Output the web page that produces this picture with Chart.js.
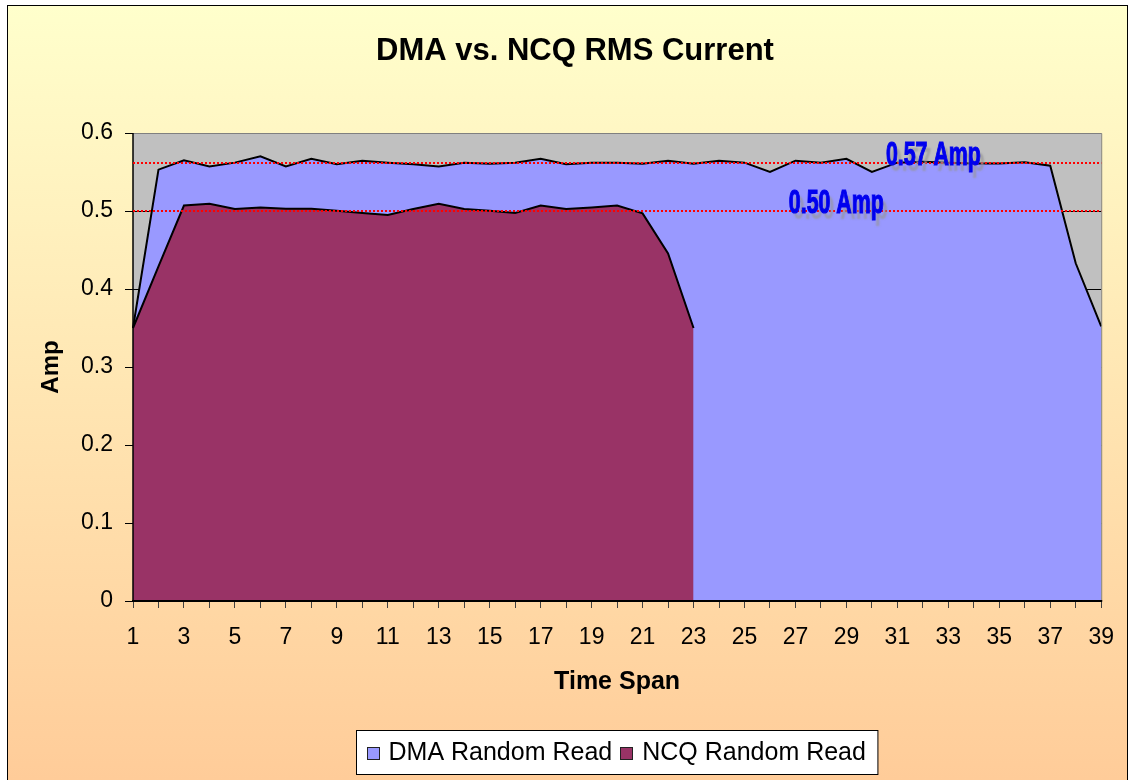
<!DOCTYPE html>
<html>
<head>
<meta charset="utf-8">
<script src="https://cdn.jsdelivr.net/npm/chart.js@4.4.1/dist/chart.umd.min.js"></script>
<style>
html,body{margin:0;padding:0;background:#fff;}
#wrap{width:1130px;height:780px;}
</style>
</head>
<body>
<div id="wrap"><canvas id="c" width="1130" height="780"></canvas></div>
<script>
const chartTitle = 'DMA vs. NCQ RMS Current';
const xAxisTitle = 'Time Span';
const yAxisTitle = 'Amp';
const seriesNames = ['DMA Random Read', 'NCQ Random Read'];

const categories = ['1','2','3','4','5','6','7','8','9','10','11','12','13','14','15','16','17','18','19','20',
  '21','22','23','24','25','26','27','28','29','30','31','32','33','34','35','36','37','38','39'];

const dmaValues = [0.350, 0.553, 0.565, 0.557, 0.562, 0.570, 0.557, 0.567, 0.560, 0.5645,
  0.562, 0.560, 0.557, 0.562, 0.5605, 0.562, 0.567, 0.560, 0.562, 0.562,
  0.5605, 0.5645, 0.5605, 0.5645, 0.562, 0.550, 0.5645, 0.562, 0.567, 0.550,
  0.562, 0.563, 0.562, 0.561, 0.561, 0.5625, 0.558, 0.433, 0.352];

const ncqValues = [0.350, 0.429, 0.507, 0.5094, 0.5026, 0.5045, 0.503, 0.503, 0.5004, 0.4974,
  0.4949, 0.5026, 0.5094, 0.5026, 0.5004, 0.4974, 0.507, 0.5026, 0.5045, 0.507,
  0.497, 0.4457, 0.350, null, null, null, null, null, null, null,
  null, null, null, null, null, null, null, null, null];

const refValues = [0.561, 0.50];
const refLabels = ['0.57 Amp', '0.50 Amp'];

const FONT = '"Liberation Sans", Arial, Helvetica, sans-serif';

const decorPlugin = {
  id: 'decor',
  beforeDraw(chart) {
    const {ctx, chartArea: a} = chart;
    ctx.save();
    ctx.fillStyle = '#ffffff';
    ctx.fillRect(0, 0, chart.width, chart.height);
    const g = ctx.createLinearGradient(0, 5, 0, 780);
    g.addColorStop(0, '#FFFFCC');
    g.addColorStop(1, '#FFCC99');
    ctx.fillStyle = g;
    ctx.fillRect(7, 5, 1121, 780);
    ctx.strokeStyle = '#000000';
    ctx.lineWidth = 1;
    ctx.strokeRect(7.5, 5.5, 1120, 800);
    ctx.fillStyle = '#C0C0C0';
    ctx.fillRect(a.left, a.top, a.right - a.left, a.bottom - a.top);
    ctx.restore();
  },
  afterDatasetsDraw(chart) {
    const {ctx, chartArea: a, scales: {x, y}} = chart;
    ctx.save();
    ctx.strokeStyle = '#808080';
    ctx.lineWidth = 1;
    ctx.beginPath();
    ctx.moveTo(a.left, a.top + 0.5);
    ctx.lineTo(a.right + 0.5, a.top + 0.5);
    ctx.lineTo(a.right + 0.5, a.bottom);
    ctx.stroke();
    ctx.strokeStyle = '#000000';
    ctx.lineWidth = 1.5;
    ctx.beginPath();
    ctx.moveTo(a.left, a.top);
    ctx.lineTo(a.left, a.bottom);
    ctx.stroke();
    ctx.lineWidth = 2;
    ctx.beginPath();
    ctx.moveTo(a.left - 1, a.bottom);
    ctx.lineTo(a.right + 1, a.bottom);
    ctx.stroke();
    ctx.strokeStyle = '#FF0000';
    ctx.lineWidth = 2;
    ctx.setLineDash([2, 2]);
    refValues.forEach(v => {
      const py = Math.round(y.getPixelForValue(v));
      ctx.beginPath();
      ctx.moveTo(a.left, py);
      ctx.lineTo(a.right, py);
      ctx.stroke();
    });
    ctx.setLineDash([]);
    const labelX = [x.getPixelForValue(29.55), x.getPixelForValue(25.74)];
    ctx.font = 'bold 34px "Liberation Sans Narrow", "Liberation Sans", Arial, sans-serif';
    ctx.textBaseline = 'alphabetic';
    ctx.textAlign = 'left';
    refLabels.forEach((t, i) => {
      const w = ctx.measureText(t).width;
      const sx = 95 / w;
      const py = y.getPixelForValue(refValues[i]) + 2;
      ctx.save();
      ctx.translate(labelX[i], py);
      ctx.scale(sx, 1);
      ctx.shadowColor = 'rgba(150,150,150,0.7)';
      ctx.shadowOffsetX = 4;
      ctx.shadowOffsetY = 6;
      ctx.shadowBlur = 2;
      ctx.fillStyle = '#0000EE';
      ctx.fillText(t, 0, 0);
      ctx.shadowColor = 'rgba(0,0,0,0)';
      ctx.strokeStyle = '#0000EE';
      ctx.lineWidth = 1.2;
      ctx.strokeText(t, 0, 0);
      ctx.restore();
    });
    ctx.restore();
  },
  afterDraw(chart) {
    const {ctx, chartArea: a} = chart;
    ctx.save();
    ctx.fillStyle = '#000';
    ctx.font = 'bold 31px ' + FONT;
    ctx.textAlign = 'center';
    ctx.textBaseline = 'alphabetic';
    ctx.fillText(chartTitle, 575, 60);
    ctx.font = '25px ' + FONT;
    const ds = chart.data.datasets;
    const widths = ds.map(d => ctx.measureText(d.label).width);
    const padL = 10, sq = 13, gap = 9, between = 8, padR = 12;
    const boxW = padL + sq + gap + widths[0] + between + sq + gap + widths[1] + padR;
    const boxH = 44;
    const cx = (a.left + a.right) / 2;
    const bx = Math.round(cx - boxW / 2) + 0.5;
    const by = 730.5;
    ctx.fillStyle = '#ffffff';
    ctx.fillRect(bx, by, boxW, boxH);
    ctx.strokeStyle = '#000';
    ctx.lineWidth = 1;
    ctx.strokeRect(bx, by, boxW, boxH);
    let px = bx + padL;
    const midY = by + boxH / 2;
    ctx.textAlign = 'left';
    ctx.textBaseline = 'middle';
    ds.forEach((d, i) => {
      ctx.fillStyle = d.backgroundColor;
      ctx.fillRect(Math.round(px), Math.round(midY - sq / 2 + 1), sq, sq);
      ctx.strokeStyle = '#222';
      ctx.strokeRect(Math.round(px) + 0.5, Math.round(midY - sq / 2 + 1) + 0.5, sq - 1, sq - 1);
      px += sq + gap;
      ctx.fillStyle = '#000';
      ctx.fillText(d.label, px, midY + 1);
      px += widths[i] + between;
    });
    ctx.restore();
  }
};

new Chart(document.getElementById('c'), {
  type: 'line',
  data: {
    labels: categories,
    datasets: [
      {
        label: seriesNames[0], data: dmaValues,
        backgroundColor: '#9999FF', borderColor: '#000000', borderWidth: 2,
        fill: 'origin', pointRadius: 0, pointHoverRadius: 0, tension: 0, order: 2
      },
      {
        label: seriesNames[1], data: ncqValues,
        backgroundColor: '#993366', borderColor: '#000000', borderWidth: 2,
        fill: 'origin', pointRadius: 0, pointHoverRadius: 0, tension: 0, order: 1, spanGaps: false
      }
    ]
  },
  options: {
    responsive: false,
    animation: false,
    devicePixelRatio: 1,
    layout: {padding: {left: 33, top: 133, right: 27, bottom: 79}},
    plugins: {
      legend: {display: false},
      title: {display: false},
      tooltip: {enabled: false}
    },
    scales: {
      x: {
        type: 'category',
        offset: false,
        border: {display: false},
        grid: {display: true, drawOnChartArea: false, drawTicks: true, tickLength: 7, tickColor: '#404040', tickWidth: 1},
        ticks: {
          autoSkip: false, maxRotation: 0, minRotation: 0, padding: 16, color: '#000',
          font: {family: FONT, size: 23},
          callback: (v, i) => (i % 2 === 0 ? categories[i] : '')
        },
        title: {display: true, text: xAxisTitle, color: '#000', font: {family: FONT, size: 25, weight: 'bold'}, padding: {top: 4, bottom: 4}},
        afterFit: s => { s.height = 100; }
      },
      y: {
        min: 0, max: 0.6,
        border: {display: false},
        grid: {
          color: c => (c.tick && c.tick.value >= 0.6 ? '#808080' : '#000000'),
          lineWidth: 1, drawTicks: true, tickLength: 8, tickColor: '#000000', tickWidth: 1
        },
        ticks: {
          stepSize: 0.1, padding: 12, color: '#000',
          font: {family: FONT, size: 23},
          callback: v => String(Math.round(v * 10) / 10)
        },
        title: {display: true, text: yAxisTitle, color: '#000', font: {family: FONT, size: 24, weight: 'bold'}, padding: {top: 4, bottom: 4}},
        afterFit: s => { s.width = 100; }
      }
    }
  },
  plugins: [decorPlugin]
});
</script>
</body>
</html>
